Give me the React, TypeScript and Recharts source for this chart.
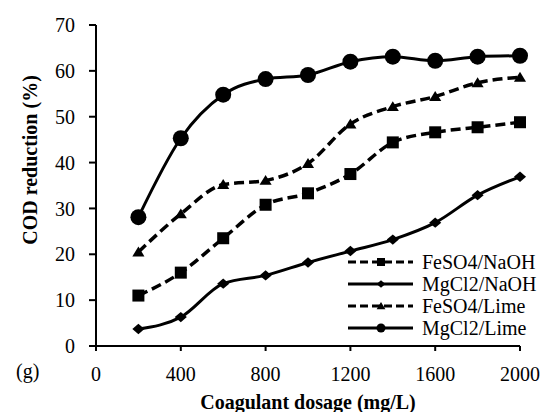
import React from "react";
import {
  LineChart,
  Line,
  XAxis,
  YAxis,
  Legend,
  Label,
} from "recharts";

const dosage = [200, 400, 600, 800, 1000, 1200, 1400, 1600, 1800, 2000];
const feso4NaOH = [11, 16, 23.5, 30.8, 33.3, 37.5, 44.4, 46.6, 47.7, 48.8];
const mgcl2NaOH = [3.7, 6.3, 13.6, 15.4, 18.2, 20.7, 23.2, 26.9, 32.9, 36.9];
const feso4Lime = [20.5, 28.8, 35.2, 36.1, 39.8, 48.4, 52.2, 54.4, 57.4, 58.6];
const mgcl2Lime = [28.1, 45.3, 54.8, 58.2, 59.1, 62.0, 63.1, 62.2, 63.1, 63.3];

const xTicks = [0, 400, 800, 1200, 1600, 2000];
const yTicks = [0, 10, 20, 30, 40, 50, 60, 70];

const data = dosage.map((d, i) => ({
  dosage: d,
  feso4NaOH: feso4NaOH[i],
  mgcl2NaOH: mgcl2NaOH[i],
  feso4Lime: feso4Lime[i],
  mgcl2Lime: mgcl2Lime[i],
}));

const FONT = '"Liberation Serif", "Times New Roman", serif';

type Shape = "square" | "diamond" | "triangle" | "circle";

function marker(shape: Shape, cx: number, cy: number, s: number, key?: string) {
  if (shape === "square") {
    return <rect key={key} x={cx - s} y={cy - s} width={2 * s} height={2 * s} fill="#000" />;
  }
  if (shape === "diamond") {
    return (
      <polygon
        key={key}
        points={`${cx},${cy - s * 0.95} ${cx + s * 1.1},${cy} ${cx},${cy + s * 0.95} ${cx - s * 1.1},${cy}`}
        fill="#000"
      />
    );
  }
  if (shape === "triangle") {
    return (
      <polygon
        key={key}
        points={`${cx},${cy - s * 1.0} ${cx + s * 1.1},${cy + s * 0.8} ${cx - s * 1.1},${cy + s * 0.8}`}
        fill="#000"
      />
    );
  }
  return <circle key={key} cx={cx} cy={cy} r={s} fill="#000" />;
}

const makeDot = (shape: Shape, s: number) => (props: any) => {
  const { cx, cy, index } = props;
  if (cx == null || cy == null) return <g key={`e-${index}`} />;
  return marker(shape, cx, cy, s, `${shape}-${index}`);
};

const series = [
  { key: "feso4NaOH", name: "FeSO4/NaOH", shape: "square" as Shape, dash: "10 5", size: 6 },
  { key: "mgcl2NaOH", name: "MgCl2/NaOH", shape: "diamond" as Shape, dash: undefined, size: 5.5 },
  { key: "feso4Lime", name: "FeSO4/Lime", shape: "triangle" as Shape, dash: "10 5", size: 5.5 },
  { key: "mgcl2Lime", name: "MgCl2/Lime", shape: "circle" as Shape, dash: undefined, size: 8 },
];

function LegendBox() {
  return (
    <svg width={200} height={92} style={{ display: "block" }}>
      {series.map((s, i) => {
        const y = 11 + i * 22;
        return (
          <g key={s.key}>
            <line x1={3} x2={68} y1={y} y2={y} stroke="#000" strokeWidth={3} strokeDasharray={s.dash ? "8 4" : undefined} />
            {marker(s.shape, 36, y, s.shape === "circle" ? 4.5 : 4)}
            <text x={77} y={y + 7} fontFamily={FONT} fontSize={20} fill="#000">
              {s.name}
            </text>
          </g>
        );
      })}
    </svg>
  );
}

export default function App() {
  return (
    <div style={{ position: "absolute", left: 0, top: 0, background: "#fff" }}>
      <LineChart width={543} height={412} data={data} margin={{ top: 25, right: 23, left: 0, bottom: 0 }}>
        <XAxis
          dataKey="dosage"
          type="number"
          domain={[0, 2000]}
          ticks={xTicks}
          height={66}
          axisLine={{ stroke: "#000", strokeWidth: 2 }}
          tickLine={{ stroke: "#000", strokeWidth: 2 }}
          tickSize={5}
          tickMargin={16}
          tick={{ fill: "#000", fontSize: 20, fontFamily: FONT }}
        >
          <Label
            content={() => (
              <g>
                <text x={308} y={409} textAnchor="middle" fontFamily={FONT} fontSize={20} fontWeight="bold" fill="#000">
                  Coagulant dosage (mg/L)
                </text>
                <text x={16} y={378} fontFamily={FONT} fontSize={20} fill="#000">
                  (g)
                </text>
              </g>
            )}
          />
        </XAxis>
        <YAxis
          domain={[0, 70]}
          ticks={yTicks}
          width={96}
          axisLine={{ stroke: "#000", strokeWidth: 2 }}
          tickLine={{ stroke: "#000", strokeWidth: 2 }}
          tickSize={7}
          tickMargin={14}
          tick={{ fill: "#000", fontSize: 20, fontFamily: FONT }}
        >
          <Label
            content={() => (
              <text
                x={30}
                y={160}
                transform="rotate(-90 30 160)"
                textAnchor="middle"
                dominantBaseline="central"
                fontFamily={FONT}
                fontSize={20}
                fontWeight="bold"
                fill="#000"
              >
                COD reduction (%)
              </text>
            )}
          />
        </YAxis>
        <Legend
          layout="horizontal"
          align="center"
          verticalAlign="middle"
          wrapperStyle={{ left: 345, top: 251, width: 200, height: 92 }}
          content={() => <LegendBox />}
        />
        {series.map((s) => (
          <Line
            key={s.key}
            dataKey={s.key}
            name={s.name}
            type="monotone"
            stroke="#000"
            strokeWidth={s.dash ? 3.5 : 3}
            strokeDasharray={s.dash}
            dot={makeDot(s.shape, s.size)}
            activeDot={false}
            isAnimationActive={false}
          />
        ))}
      </LineChart>
    </div>
  );
}
